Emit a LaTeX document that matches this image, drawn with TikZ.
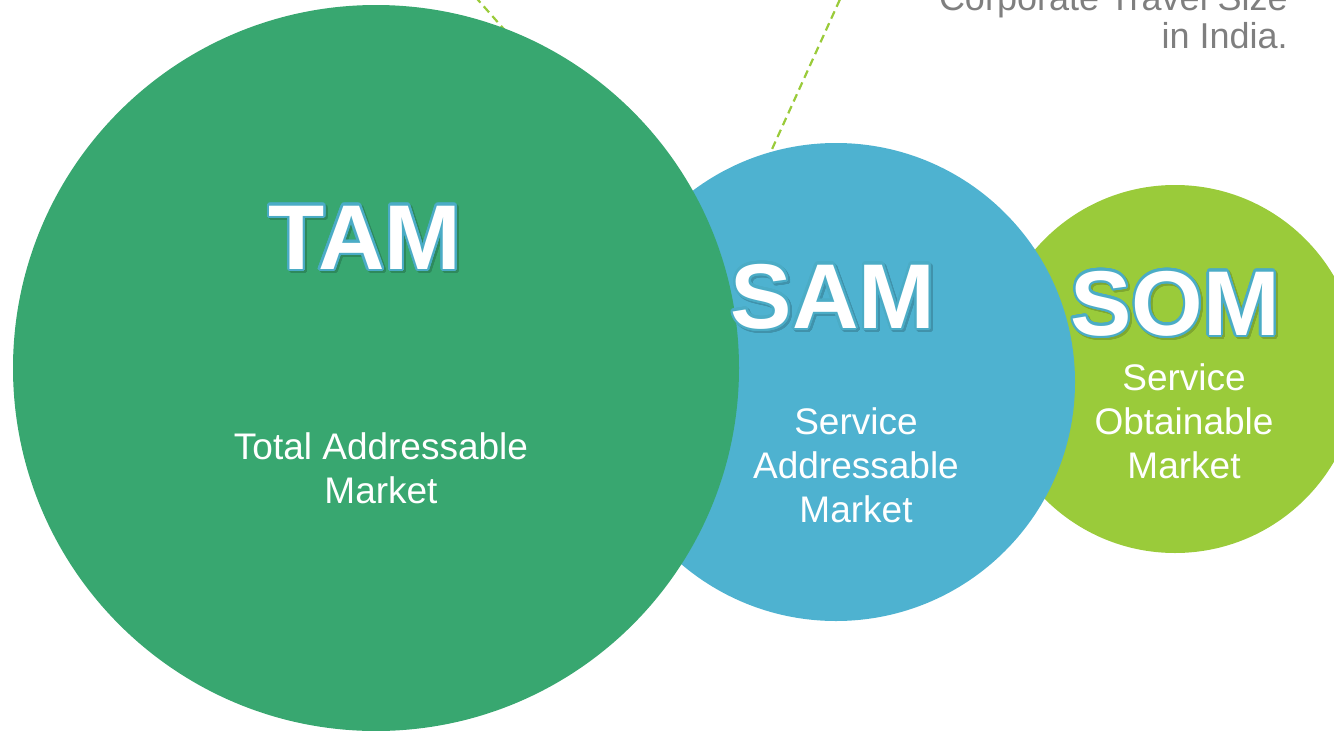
\documentclass[tikz,border=0pt]{standalone}
\usepackage{fontspec}
\setmainfont{Liberation Sans}
\usepackage{contour}
\contourlength{2.2pt}
\contournumber{32}

\definecolor{tamgreen}{HTML}{38A770}
\definecolor{samblue}{HTML}{4EB2D0}
\definecolor{somgreen}{HTML}{9ACB3A}
\definecolor{leadgreen}{HTML}{9ACB3A}
\definecolor{rimblue}{HTML}{4BACC6}
\definecolor{notegray}{HTML}{7F7F7F}

\begin{document}
\begin{tikzpicture}[x=1pt,y=-1pt,
  disc/.style={circle, inner sep=0pt, minimum size=#1},
  lead/.style={draw=leadgreen, line width=2.2pt, dash pattern=on 8pt off 5pt},
  bigword/.style={font=\fontsize{92}{92}\selectfont\bfseries, text=white, inner sep=0pt, anchor=base},
  bigshadow/.style={font=\fontsize{92}{92}\selectfont\bfseries, inner sep=0pt, anchor=base},
  sub/.style={font=\fontsize{37}{44}\selectfont, text=white, align=center, inner sep=0pt, anchor=base},
]
\clip (0,0) rectangle (1334,731);

% leader lines toward the note at the top
\coordinate (l1a) at (432,-52);
\coordinate (l1b) at (510,36);
\coordinate (l2a) at (856,-36);
\coordinate (l2b) at (768,158);
\draw[lead] (l1a) -- (l1b);
\draw[lead] (l2a) -- (l2b);

% market circles, smallest at the back
\node[disc=368pt, fill=somgreen] (som) at (1175,369) {};
\node[disc=478pt, fill=samblue]  (sam) at (836,382) {};
\node[disc=726pt, fill=tamgreen] (tam) at (376,368) {};

% headline words with outline and soft shadow
\node[bigshadow, text=tamgreen!82!black] (tamshadow) at (367,271) {\contour{tamgreen!82!black}{TAM}};
\node[bigword] (tamword) at (365,269) {\contour{rimblue}{TAM}};
\node[bigshadow, text=samblue!82!black] (samshadow) at (835,330) {\contour{samblue!82!black}{SAM}};
\node[bigword] (samword) at (833,328) {\contour{rimblue}{SAM}};
\node[bigshadow, text=somgreen!82!black] (somshadow) at (1177,337) {\contour{somgreen!82!black}{SOM}};
\node[bigword] (somword) at (1175,335) {\contour{rimblue}{SOM}};

% descriptions (anchored at the baseline of their last line)
\node[sub] (tamsub) at (381,503) {Total Addressable~\\Market};
\node[sub] (samsub) at (856,522) {Service\\Addressable~\\Market};
\node[sub] (somsub) at (1184,478) {Service\\Obtainable~\\Market};

% note at the top right
\node[font=\fontsize{36}{38}\selectfont, text=notegray, align=right, anchor=base east, inner sep=0pt] (note) at (1288,48) {Corporate Travel Size\\in India.};
\end{tikzpicture}
\end{document}
